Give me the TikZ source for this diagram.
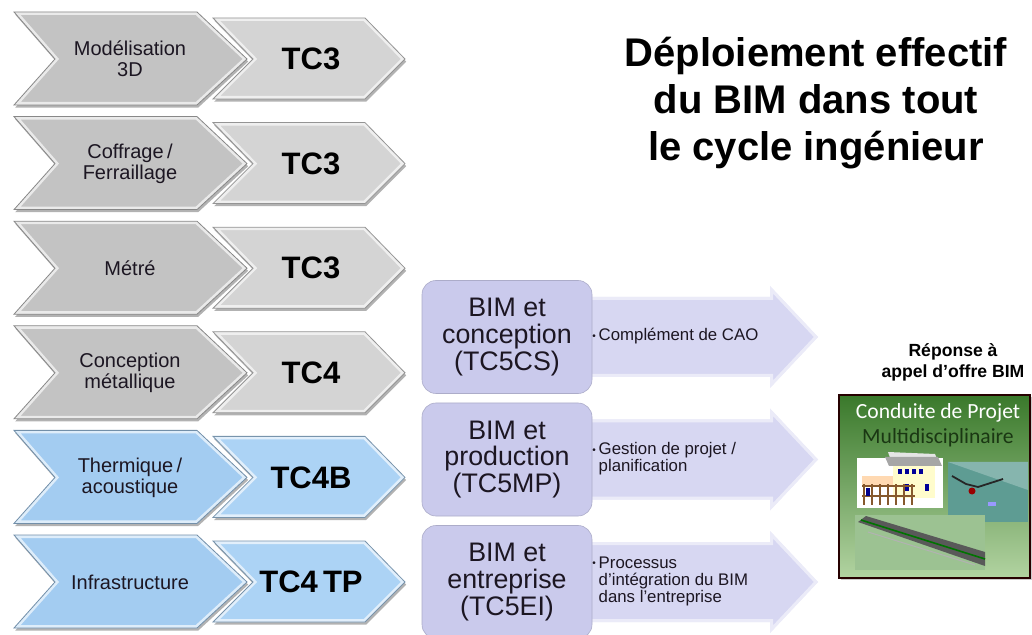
\documentclass[tikz,border=0pt]{standalone}
\usepackage{fontspec}
\setmainfont{Liberation Sans}
\newfontfamily\calibri{Carlito}
\usetikzlibrary{shadows, calc}
\renewcommand{\arraystretch}{0.9}

\definecolor{Lgrey}{HTML}{C3C3C3}
\definecolor{Rgrey}{HTML}{D4D4D4}
\definecolor{Lblue}{HTML}{A3CCF1}
\definecolor{Rblue}{HTML}{ACD3F5}
\definecolor{lavbox}{HTML}{CACAEC}
\definecolor{lavarrow}{HTML}{D7D7F2}
\definecolor{inkdark}{HTML}{1C1622}
\definecolor{greentop}{HTML}{3A792B}
\definecolor{greenbot}{HTML}{B2D3A1}
\definecolor{tealpanel}{HTML}{5E9C93}
\definecolor{roadpanel}{HTML}{9CC292}

\tikzset{
	chevshadow/.style={drop shadow={shadow xshift=0.6pt, shadow yshift=-1.3pt, opacity=0.3, fill=black}},
	bevel/.style={white, opacity=0.65, line width=3pt},
	skilltext/.style={align=center, text=inkdark, font=\fontsize{10}{10.5}\selectfont},
	codetext/.style={text=black, font=\fontsize{15.5}{16}\selectfont\bfseries},
	bimbox/.style={fill=lavbox, draw=lavbox!85!black, line width=0.3pt, rounded corners=7pt,
		minimum width=85pt, minimum height=56.5pt, align=center, text=inkdark,
		font=\fontsize{13.4}{13.3}\selectfont},
	detailtext/.style={anchor=west, inner sep=0pt, text=inkdark, font=\fontsize{8.4}{9.3}\selectfont},
}

\begin{document}
\begin{tikzpicture}[x=0.5pt, y=-0.5pt]
	\useasboundingbox (0,0) rectangle (1032,635);

	% chevron rows: skill then course code
	\foreach \r/\skill/\code/\col in {0/{Modélisation\\3D}/TC3/grey, 1/{Coffrage\,/\\Ferraillage}/TC3/grey,
		2/Métré/TC3/grey, 3/{Conception\\métallique}/TC4/grey,
		4/{Thermique\,/\\acoustique}/TC4B/blue, 5/Infrastructure/TC4\,TP/blue} {
		\pgfmathsetmacro{\yt}{12 + 104.6*\r}
		\coordinate (a\r) at (14,\yt);
		\coordinate (b\r) at (197,\yt);
		\coordinate (c\r) at (247,\yt+47);
		\coordinate (d\r) at (197,\yt+93);
		\coordinate (e\r) at (14,\yt+93);
		\coordinate (f\r) at (55,\yt+47);
		\coordinate (g\r) at (213,\yt+6);
		\coordinate (h\r) at (365,\yt+6);
		\coordinate (i\r) at (405,\yt+47);
		\coordinate (j\r) at (365,\yt+87);
		\coordinate (k\r) at (213,\yt+87);
		\coordinate (l\r) at (253,\yt+47);
		% course code chevron
		\fill[R\col, chevshadow] (g\r) -- (h\r) -- (i\r) -- (j\r) -- (k\r) -- (l\r) -- cycle;
		\begin{scope}
			\clip (g\r) -- (h\r) -- (i\r) -- (j\r) -- (k\r) -- (l\r) -- cycle;
			\draw[bevel] (g\r) -- (h\r) -- (i\r) -- (j\r) -- (k\r) -- (l\r) -- cycle;
		\end{scope}
		\draw[R\col!70!black, line width=0.4pt] (g\r) -- (h\r) -- (i\r) -- (j\r) -- (k\r) -- (l\r) -- cycle;
		% skill chevron
		\fill[L\col, chevshadow] (a\r) -- (b\r) -- (c\r) -- (d\r) -- (e\r) -- (f\r) -- cycle;
		\begin{scope}
			\clip (a\r) -- (b\r) -- (c\r) -- (d\r) -- (e\r) -- (f\r) -- cycle;
			\draw[bevel] (a\r) -- (b\r) -- (c\r) -- (d\r) -- (e\r) -- (f\r) -- cycle;
		\end{scope}
		\draw[L\col!70!black, line width=0.4pt] (a\r) -- (b\r) -- (c\r) -- (d\r) -- (e\r) -- (f\r) -- cycle;
		\node[skilltext] (sk\r) at (130,\yt+47) {\skill};
		\node[codetext] (tc\r) at (311,\yt+47) {\code};
	}

	% fifth year options
	\foreach \r/\area/\detail in {0/{BIM et\\conception\\(TC5CS)}/{Complément de CAO},
		1/{BIM et\\production\\(TC5MP)}/{Gestion de projet /\\planification},
		2/{BIM et\\entreprise\\(TC5EI)}/{Processus\\d'intégration du BIM\\dans l'entreprise}} {
		\pgfmathsetmacro{\ym}{337 + 122.5*\r}
		\coordinate (p\r) at (560,\ym-40);
		\coordinate (q\r) at (770,\ym-40);
		\coordinate (s\r) at (770,\ym-51);
		\coordinate (t\r) at (818,\ym);
		\coordinate (u\r) at (770,\ym+51);
		\coordinate (v\r) at (770,\ym+40);
		\coordinate (w\r) at (560,\ym+40);
		\fill[lavarrow] (p\r) -- (q\r) -- (s\r) -- (t\r) -- (u\r) -- (v\r) -- (w\r) -- cycle;
		\begin{scope}
			\clip (p\r) -- (q\r) -- (s\r) -- (t\r) -- (u\r) -- (v\r) -- (w\r) -- cycle;
			\draw[bevel, opacity=0.5] (p\r) -- (q\r) -- (s\r) -- (t\r) -- (u\r) -- (v\r) -- (w\r) -- cycle;
		\end{scope}
		\node[bimbox] (bim\r) at (507,\ym) {\area};
		\node[detailtext] (dt\r) at (592,\ym)
			{\raisebox{0.15ex}{\tiny\textbullet}\,\begin{tabular}[t]{@{}l@{}}\detail\end{tabular}};
	}

	\node[align=center, font=\fontsize{20}{23.3}\selectfont\bfseries] (title) at (816,103)
		{Déploiement effectif\\du BIM dans tout\\le cycle ingénieur};
	\node[align=center, font=\fontsize{8.8}{10.5}\selectfont\bfseries] (tender) at (953,362)
		{Réponse à\\appel d’offre BIM};

	% project picture
	\coordinate (gA) at (839,395);
	\coordinate (gB) at (1030,578);
	\shade[top color=greentop, bottom color=greenbot, drop shadow={shadow xshift=1pt, shadow yshift=-1pt, opacity=0.4}]
		(gA) rectangle (gB);
	\draw[black!85!red, line width=0.6pt] (gA) rectangle (gB);
	\node[text=white, font=\calibri\fontsize{10.8}{12}\selectfont] (cdp) at (938,413) {Conduite de Projet};
	\node[text=greentop!45!black, font=\calibri\fontsize{10.8}{12}\selectfont] (multi) at (938,438) {Multidisciplinaire};
	% house model
	\fill[white] (857,458) rectangle (943,508);
	\fill[black!10] (888,452) -- (935,454) -- (940,466) -- (893,466) -- cycle;
	\fill[yellow!20!white] (893,466) rectangle (935,498);
	\fill[black!35] (885,457) -- (938,457) -- (942,466) -- (889,466) -- cycle;
	\foreach \wx in {898,905,912,919} \fill[blue!60!black] (\wx,469) rectangle ++(4,5);
	\foreach \wx in {905,925} \fill[blue!60!black] (\wx,484) rectangle ++(4,7);
	\fill[orange!30!white] (862,476) rectangle (893,486);
	\foreach \dx in {864,872,880,888,896,904,912} \draw[brown!70!black, line width=0.6pt] (\dx,484) -- (\dx,505);
	\draw[brown!70!black, line width=0.6pt] (862,486) -- (915,486) (862,496) -- (915,496);
	\fill[blue!55!black] (866,488) rectangle ++(4,8);
	% landscape model
	\fill[tealpanel] (948,462) rectangle (1028,522);
	\fill[tealpanel!75!white] (948,462) -- (1028,462) -- (1028,490) -- cycle;
	\draw[black!85, line width=0.9pt] (952,476) -- (966,484) -- (978,487) -- (1003,479);
	\fill[red!60!black] (972,491) circle (3.5);
	\fill[blue!40!white] (988,502) rectangle ++(8,4);
	% road model
	\fill[roadpanel] (855,515) rectangle (985,570);
	\fill[black!65] (858,522) -- (866,516) -- (985,552) -- (985,566) -- cycle;
	\draw[green!45!black, line width=0.8pt] (861,520) -- (985,559);
	\draw[black!30, line width=0.5pt] (868,532) -- (975,565);
\end{tikzpicture}
\end{document}
